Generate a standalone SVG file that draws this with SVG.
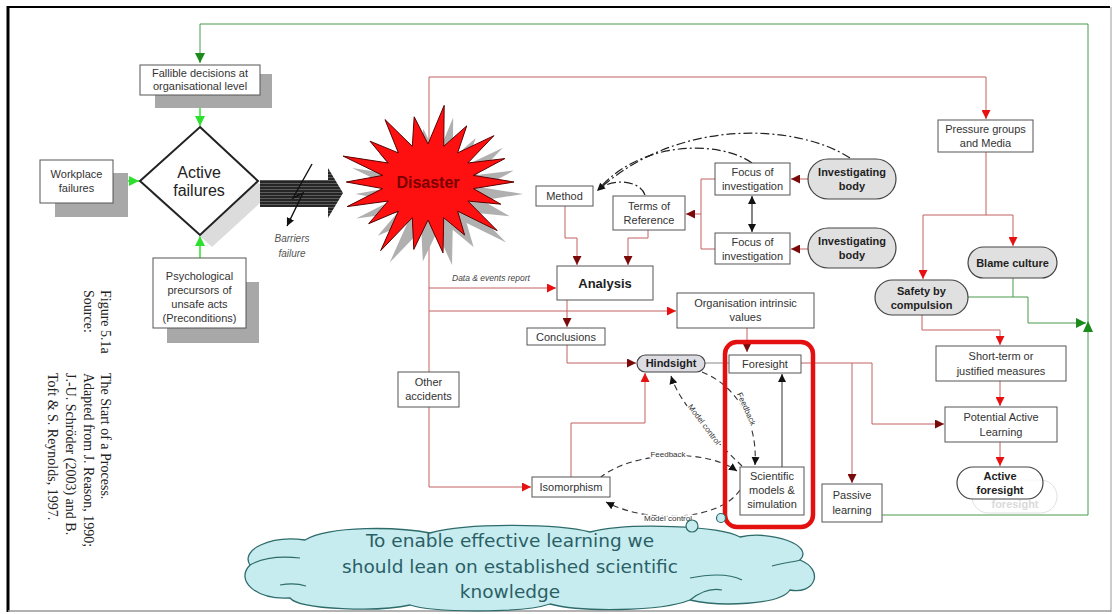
<svg xmlns="http://www.w3.org/2000/svg" width="1119" height="614" viewBox="0 0 1119 614">
  <defs>
    <style>
      .t { font-family: "Liberation Sans", Arial, sans-serif; font-size: 11px; fill: #333; text-anchor: middle; }
      .b { font-weight: bold; fill: #1e1e1e; }
      .box { fill: #fff; stroke: #555; stroke-width: 1; }
      .pill { fill: #e0e0e0; stroke: #444; stroke-width: 1.2; }
      .shadow { fill: #a8a8a8; }
      .ln { fill: none; stroke: #c26262; stroke-width: 1; }
      .gr { fill: none; stroke: #4a9a4a; stroke-width: 1; }
      .dd { fill: none; stroke: #222; stroke-width: 1.2; stroke-dasharray: 9 3 2 3; }
      .ds { fill: none; stroke: #333; stroke-width: 1.1; stroke-dasharray: 6 4; }
      .lbl { font-family: "Liberation Sans", Arial, sans-serif; font-size: 8px; fill: #333; text-anchor: middle; stroke: #fff; stroke-width: 3; paint-order: stroke; }
      .cap { font-family: "Liberation Serif", "Times New Roman", serif; font-size: 14px; fill: #222; }
      .cloudtxt { font-family: "DejaVu Sans", Verdana, sans-serif; font-size: 18.5px; fill: #2b5f66; text-anchor: middle; }
    </style>
    <marker id="aR" viewBox="0 0 10 10" refX="10" refY="5" markerWidth="9" markerHeight="9" markerUnits="userSpaceOnUse" orient="auto">
      <path d="M0,0 L10,5 L0,10 z" fill="#e81010"/>
    </marker>
    <marker id="aD" viewBox="0 0 10 10" refX="10" refY="5" markerWidth="9" markerHeight="9" markerUnits="userSpaceOnUse" orient="auto">
      <path d="M0,0 L10,5 L0,10 z" fill="#7a0a0a"/>
    </marker>
    <marker id="aK" viewBox="0 0 10 10" refX="10" refY="5" markerWidth="8" markerHeight="8" markerUnits="userSpaceOnUse" orient="auto-start-reverse">
      <path d="M0,0 L10,5 L0,10 z" fill="#111"/>
    </marker>
    <marker id="aG" viewBox="0 0 10 10" refX="10" refY="5" markerWidth="10" markerHeight="10" markerUnits="userSpaceOnUse" orient="auto">
      <path d="M0,0 L10,5 L0,10 z" fill="#2ee02e"/>
    </marker>
    <marker id="aGd" viewBox="0 0 10 10" refX="10" refY="5" markerWidth="10" markerHeight="10" markerUnits="userSpaceOnUse" orient="auto">
      <path d="M0,0 L10,5 L0,10 z" fill="#1a8a1a"/>
    </marker>
    <pattern id="stripes" width="6" height="3" patternUnits="userSpaceOnUse">
      <rect width="6" height="3" fill="#262626"/>
      <rect width="6" height="1" fill="#5c5c5c"/>
    </pattern>
  </defs>

  <rect width="1119" height="614" fill="#fff"/>

  <!-- page frame -->
  <g id="frame">
    <line x1="8" y1="6" x2="8" y2="612" stroke="#000" stroke-width="3"/>
    <line x1="7" y1="7" x2="1110" y2="7" stroke="#000" stroke-width="2"/>
    <line x1="1111" y1="7" x2="1111" y2="612" stroke="#999" stroke-width="1"/>
    <line x1="8" y1="611" x2="1111" y2="611" stroke="#999" stroke-width="1.5"/>
  </g>

  <!-- figure caption, set sideways -->
  <g id="caption">
    <text class="cap" transform="translate(101,290) rotate(90)">Figure 5.1a</text>
    <text class="cap" transform="translate(101,373) rotate(90)">The Start of a Process.</text>
    <text class="cap" transform="translate(84,290) rotate(90)">Source:</text>
    <text class="cap" transform="translate(84,373) rotate(90)">Adapted from J. Reason, 1990;</text>
    <text class="cap" transform="translate(66,373) rotate(90)">J.-U. Schröder (2003) and B.</text>
    <text class="cap" transform="translate(48,373) rotate(90)">Toft &amp; S. Reynolds, 1997.</text>
  </g>

  <!-- connectors -->
  <g id="connectors">
    <!-- green feedback loop -->
    <path class="gr" d="M882,515 H1088 V24 H200 V63" marker-end="url(#aGd)"/>
    <path class="gr" d="M968,297 H1028 V323 H1086" marker-end="url(#aGd)"/>
    <path class="gr" d="M1013,278 V297"/>
    <path d="M1083,332 L1088,321 L1093,332 z" fill="#1a8a1a"/>
    <!-- inputs to active failures -->
    <path d="M200,95 V126" stroke="#2ee02e" stroke-width="1.5" fill="none" marker-end="url(#aG)"/>
    <path d="M113,181 H139" stroke="#2ee02e" stroke-width="1.5" fill="none" marker-end="url(#aG)"/>
    <path d="M200,258 V236" stroke="#2ee02e" stroke-width="1.5" fill="none" marker-end="url(#aG)"/>

    <!-- red trunk from the disaster -->
    <path class="ln" d="M429,77 V487 H531" marker-end="url(#aR)"/>
    <path class="ln" d="M429,77 H986 V119" marker-end="url(#aR)"/>
    <path class="ln" d="M429,288 H556" marker-end="url(#aR)"/>
    <path class="ln" d="M429,311 H676" marker-end="url(#aR)"/>
    <text x="452" y="281" style="font-family:'Liberation Sans',Arial,sans-serif;font-size:8.5px;font-style:italic;fill:#444">Data &amp; events report</text>

    <!-- investigation block -->
    <path class="ln" d="M565,206 V238 H577 V265" marker-end="url(#aD)"/>
    <path class="ln" d="M648,230 V238 H628 V265" marker-end="url(#aD)"/>
    <path class="ln" d="M808,179 H791" marker-end="url(#aD)"/>
    <path class="ln" d="M808,249 H791" marker-end="url(#aD)"/>
    <path class="ln" d="M715,179 H701 V249 H715"/>
    <path class="ln" d="M701,214 H686" marker-end="url(#aD)"/>
    <path d="M752,196 V232" stroke="#333" stroke-width="1.2" fill="none" marker-start="url(#aK)" marker-end="url(#aK)"/>

    <!-- dash-dot influence curves to Method -->
    <path class="dd" d="M850,158 C800,125 680,115 597,191" marker-end="url(#aK)"/>
    <path class="dd" d="M752,163 C720,140 640,140 598,190"/>
    <path class="dd" d="M645,195 C640,180 612,178 600,189"/>

    <!-- analysis to hindsight -->
    <path class="ln" d="M567,300 V327" marker-end="url(#aD)"/>
    <path class="ln" d="M567,345 V363 H636" marker-end="url(#aD)"/>
    <path class="ln" d="M571,477 V423 H645 V373" marker-end="url(#aR)"/>
    <path class="ln" d="M747,328 V352" marker-end="url(#aD)"/>
    <path d="M705,363 H729" stroke="#888" stroke-width="1" fill="none"/>

    <!-- foresight onwards -->
    <path class="ln" d="M801,363 H872 V424 H944" marker-end="url(#aD)"/>
    <path class="ln" d="M852,363 V483" marker-end="url(#aD)"/>
    <path d="M782,467 V374" stroke="#333" stroke-width="1" fill="none" marker-end="url(#aK)"/>

    <!-- public response -->
    <path class="ln" d="M986,152 V215"/>
    <path class="ln" d="M923,215 H1013"/>
    <path class="ln" d="M923,215 V279" marker-end="url(#aR)"/>
    <path class="ln" d="M1013,215 V246" marker-end="url(#aR)"/>
    <path class="ln" d="M922,315 V330 H1000 V345" marker-end="url(#aR)"/>
    <path class="ln" d="M1000,381 V406" marker-end="url(#aR)"/>
    <path class="ln" d="M1000,442 V466" marker-end="url(#aR)"/>

    <!-- dashed model / feedback loops -->
    <path class="ds" d="M742,466 C715,440 680,405 671,376" marker-end="url(#aK)"/>
    <path class="ds" d="M702,372 C735,385 758,420 755,465" marker-end="url(#aK)"/>
    <path class="ds" d="M600,478 C625,455 700,445 737,471" marker-end="url(#aK)"/>
    <path class="ds" d="M740,490 C720,520 650,525 606,502" marker-end="url(#aK)"/>
    <text class="lbl" transform="translate(702,426) rotate(53)">Model control</text>
    <text class="lbl" transform="translate(744,410) rotate(66)">Feedback</text>
    <text class="lbl" x="668" y="457">Feedback</text>
    <text class="lbl" x="668" y="521">Model control</text>
  </g>

  <!-- left: latent conditions -->
  <g id="fallible-decisions">
    <rect class="shadow" x="155" y="74" width="117" height="34"/>
    <rect class="box" x="140" y="65" width="120" height="30"/>
    <text class="t" x="200" y="77">Fallible decisions at</text>
    <text class="t" x="200" y="90">organisational level</text>
  </g>
  <g id="workplace-failures">
    <rect class="shadow" x="55" y="173" width="73" height="44"/>
    <rect class="box" x="40" y="160" width="73" height="43"/>
    <text class="t" x="76.5" y="178">Workplace</text>
    <text class="t" x="76.5" y="192">failures</text>
  </g>
  <g id="psychological-precursors">
    <rect class="shadow" x="167" y="282" width="92" height="61"/>
    <rect class="box" x="153" y="258" width="93" height="70"/>
    <text class="t" x="199.5" y="280">Psychological</text>
    <text class="t" x="199.5" y="294">precursors of</text>
    <text class="t" x="199.5" y="308">unsafe acts</text>
    <text class="t" x="199.5" y="322">(Preconditions)</text>
  </g>
  <g id="active-failures">
    <polygon points="212,139 270,194 212,247 152,194" fill="#dcdcdc"/>
    <polygon points="200,127 258,181 200,235 140,181" fill="#fff" stroke="#222" stroke-width="2"/>
    <text class="t" x="199" y="178" style="font-size:16px;fill:#222">Active</text>
    <text class="t" x="199" y="196" style="font-size:16px;fill:#222">failures</text>
  </g>
  <g id="barrier-arrow">
    <polygon points="260,180 328,180 328,168 343,193 328,218 328,207 260,207" fill="url(#stripes)"/>
    <!-- barriers failure bolt drawn over the shaft -->
    <path d="M312,164 L293,198 L303,193 L287,226" stroke="#111" stroke-width="1.4" fill="none" marker-end="url(#aK)"/>
    <text class="t" x="292" y="242" style="font-size:10px;font-style:italic;fill:#555">Barriers</text>
    <text class="t" x="292" y="257" style="font-size:10px;font-style:italic;fill:#555">failure</text>
  </g>

  <!-- disaster burst -->
  <g id="disaster">
    <polygon transform="translate(9,12)" fill="#b0b0b0" points="514,182 473.3,188.6 500.8,204.2 467.8,201 497.2,230.6 457.6,211.1 464.6,235 443.7,217.7 443,252.9 428,220 413.8,249.4 412.3,217.7 380.7,250.6 398.4,211.1 368.7,223.7 388.2,201 347.2,206.6 382.7,188.6 346.3,182 382.7,175.4 343.1,156.1 388.2,163 370,141.2 398.4,152.9 385,119.6 412.3,146.3 414.2,116.8 428,144 444.2,105.4 443.7,146.3 466.7,125.9 457.6,152.9 493.9,135.7 467.8,163 504.8,158.6 473.3,175.4"/>
    <polygon fill="#ff1010" stroke="#5a0000" stroke-width="1" points="514,182 473.3,188.6 500.8,204.2 467.8,201 497.2,230.6 457.6,211.1 464.6,235 443.7,217.7 443,252.9 428,220 413.8,249.4 412.3,217.7 380.7,250.6 398.4,211.1 368.7,223.7 388.2,201 347.2,206.6 382.7,188.6 346.3,182 382.7,175.4 343.1,156.1 388.2,163 370,141.2 398.4,152.9 385,119.6 412.3,146.3 414.2,116.8 428,144 444.2,105.4 443.7,146.3 466.7,125.9 457.6,152.9 493.9,135.7 467.8,163 504.8,158.6 473.3,175.4"/>
    <text class="t b" x="428" y="188" style="font-size:16px;fill:#7a0000">Disaster</text>
  </g>

  <!-- investigation -->
  <g id="method">
    <rect class="box" x="536" y="186" width="57" height="20"/>
    <text class="t" x="564.5" y="200">Method</text>
  </g>
  <g id="terms-of-reference">
    <rect class="box" x="613" y="196" width="72" height="34"/>
    <text class="t" x="649" y="210">Terms of</text>
    <text class="t" x="649" y="224">Reference</text>
  </g>
  <g id="focus-1">
    <rect class="box" x="715" y="163" width="75" height="32"/>
    <text class="t" x="752.5" y="176">Focus of</text>
    <text class="t" x="752.5" y="190">investigation</text>
  </g>
  <g id="focus-2">
    <rect class="box" x="715" y="233" width="75" height="31"/>
    <text class="t" x="752.5" y="246">Focus of</text>
    <text class="t" x="752.5" y="260">investigation</text>
  </g>
  <g id="investigating-body-1">
    <rect class="pill" x="808" y="159" width="88" height="40" rx="20"/>
    <text class="t b" x="852" y="176">Investigating</text>
    <text class="t b" x="852" y="190">body</text>
  </g>
  <g id="investigating-body-2">
    <rect class="pill" x="808" y="228" width="88" height="40" rx="20"/>
    <text class="t b" x="852" y="245">Investigating</text>
    <text class="t b" x="852" y="259">body</text>
  </g>
  <g id="analysis">
    <rect class="box" x="557" y="266" width="96" height="34"/>
    <text class="t b" x="605" y="288" style="font-size:13px">Analysis</text>
  </g>
  <g id="organisation-values">
    <rect class="box" x="677" y="293" width="137" height="35"/>
    <text class="t" x="745.5" y="307">Organisation intrinsic</text>
    <text class="t" x="745.5" y="321">values</text>
  </g>
  <g id="conclusions">
    <rect class="box" x="527" y="328" width="78" height="17"/>
    <text class="t" x="566" y="341">Conclusions</text>
  </g>
  <g id="other-accidents">
    <rect class="box" x="398" y="372" width="61" height="35"/>
    <text class="t" x="428.5" y="386">Other</text>
    <text class="t" x="428.5" y="400">accidents</text>
  </g>

  <!-- learning -->
  <g id="hindsight">
    <rect x="637" y="355" width="68" height="17" rx="8.5" fill="#dcdce2" stroke="#444" stroke-width="1.2"/>
    <text class="t b" x="671" y="367">Hindsight</text>
  </g>
  <g id="foresight-group">
    <rect x="725" y="342" width="88" height="185" rx="12" fill="none" stroke="#e41010" stroke-width="4.5"/>
  </g>
  <g id="foresight">
    <rect class="box" x="729" y="355" width="72" height="18"/>
    <text class="t" x="765" y="368">Foresight</text>
  </g>
  <g id="scientific-models">
    <rect class="box" x="740" y="467" width="64" height="48"/>
    <text class="t" x="772" y="480">Scientific</text>
    <text class="t" x="772" y="494">models &amp;</text>
    <text class="t" x="772" y="508">simulation</text>
  </g>
  <g id="isomorphism">
    <rect class="box" x="532" y="477" width="78" height="20"/>
    <text class="t" x="571" y="491">Isomorphism</text>
  </g>
  <g id="passive-learning">
    <rect class="box" x="822" y="484" width="60" height="38"/>
    <text class="t" x="852" y="499">Passive</text>
    <text class="t" x="852" y="514">learning</text>
  </g>

  <!-- public response -->
  <g id="pressure-groups">
    <rect class="box" x="938" y="120" width="95" height="32"/>
    <text class="t" x="985.5" y="133">Pressure groups</text>
    <text class="t" x="985.5" y="147">and Media</text>
  </g>
  <g id="blame-culture">
    <rect class="pill" x="968" y="247" width="89" height="31" rx="15.5"/>
    <text class="t b" x="1012.5" y="267">Blame culture</text>
  </g>
  <g id="safety-by-compulsion">
    <rect class="pill" x="875" y="280" width="93" height="35" rx="17.5"/>
    <text class="t b" x="921.5" y="295">Safety by</text>
    <text class="t b" x="921.5" y="309">compulsion</text>
  </g>
  <g id="short-term-measures">
    <rect class="box" x="936" y="346" width="130" height="35"/>
    <text class="t" x="1001" y="360">Short-term or</text>
    <text class="t" x="1001" y="375">justified measures</text>
  </g>
  <g id="potential-active-learning">
    <rect class="box" x="945" y="407" width="112" height="35"/>
    <text class="t" x="1001" y="421">Potential Active</text>
    <text class="t" x="1001" y="436">Learning</text>
  </g>
  <g id="active-foresight">
    <rect x="972" y="480" width="85" height="33" rx="16.5" fill="#fff" stroke="#e0e0e0" stroke-width="1"/>
    <text class="t b" x="1015" y="508" style="fill:#dadada">foresight</text>
    <rect x="957" y="467" width="86" height="32" rx="16" fill="#fff" fill-opacity="0.7" stroke="#444" stroke-width="1.2"/>
    <text class="t b" x="1000" y="480">Active</text>
    <text class="t b" x="1000" y="494">foresight</text>
  </g>

  <!-- callout cloud -->
  <g id="cloud">
    <path d="M250,565 C240,550 270,535 305,540 C330,525 400,527 430,533 C470,522 560,524 590,532 C630,522 720,526 740,537 C770,530 815,545 800,560 C825,570 815,595 790,590 C780,605 720,607 690,600 C660,612 580,612 550,604 C520,614 430,612 410,605 C380,612 300,610 290,598 C255,600 235,580 250,565 Z" fill="#c6ecef" stroke="#2e6b6b" stroke-width="1.3"/>
    <path d="M250,565 C262,558 280,556 300,558" fill="none" stroke="#2e6b6b" stroke-width="1.2"/>
    <path d="M280,585 C290,583 300,584 306,586" fill="none" stroke="#2e6b6b" stroke-width="1.2"/>
    <path d="M690,578 C710,574 730,574 742,580" fill="none" stroke="#2e6b6b" stroke-width="1.2"/>
    <path d="M772,566 C785,562 795,562 800,560" fill="none" stroke="#2e6b6b" stroke-width="1.2"/>
    <path d="M690,600 C700,592 712,588 722,590" fill="none" stroke="#2e6b6b" stroke-width="1.2"/>
    <circle cx="692" cy="526" r="6" fill="#c6ecef" stroke="#2e6b6b" stroke-width="1.2"/>
    <circle cx="721" cy="518" r="4.5" fill="#c6ecef" stroke="#2e6b6b" stroke-width="1.2"/>
    <text class="cloudtxt" x="510" y="547">To enable effective learning we</text>
    <text class="cloudtxt" x="510" y="573">should lean on established scientific</text>
    <text class="cloudtxt" x="510" y="598">knowledge</text>
  </g>
</svg>
